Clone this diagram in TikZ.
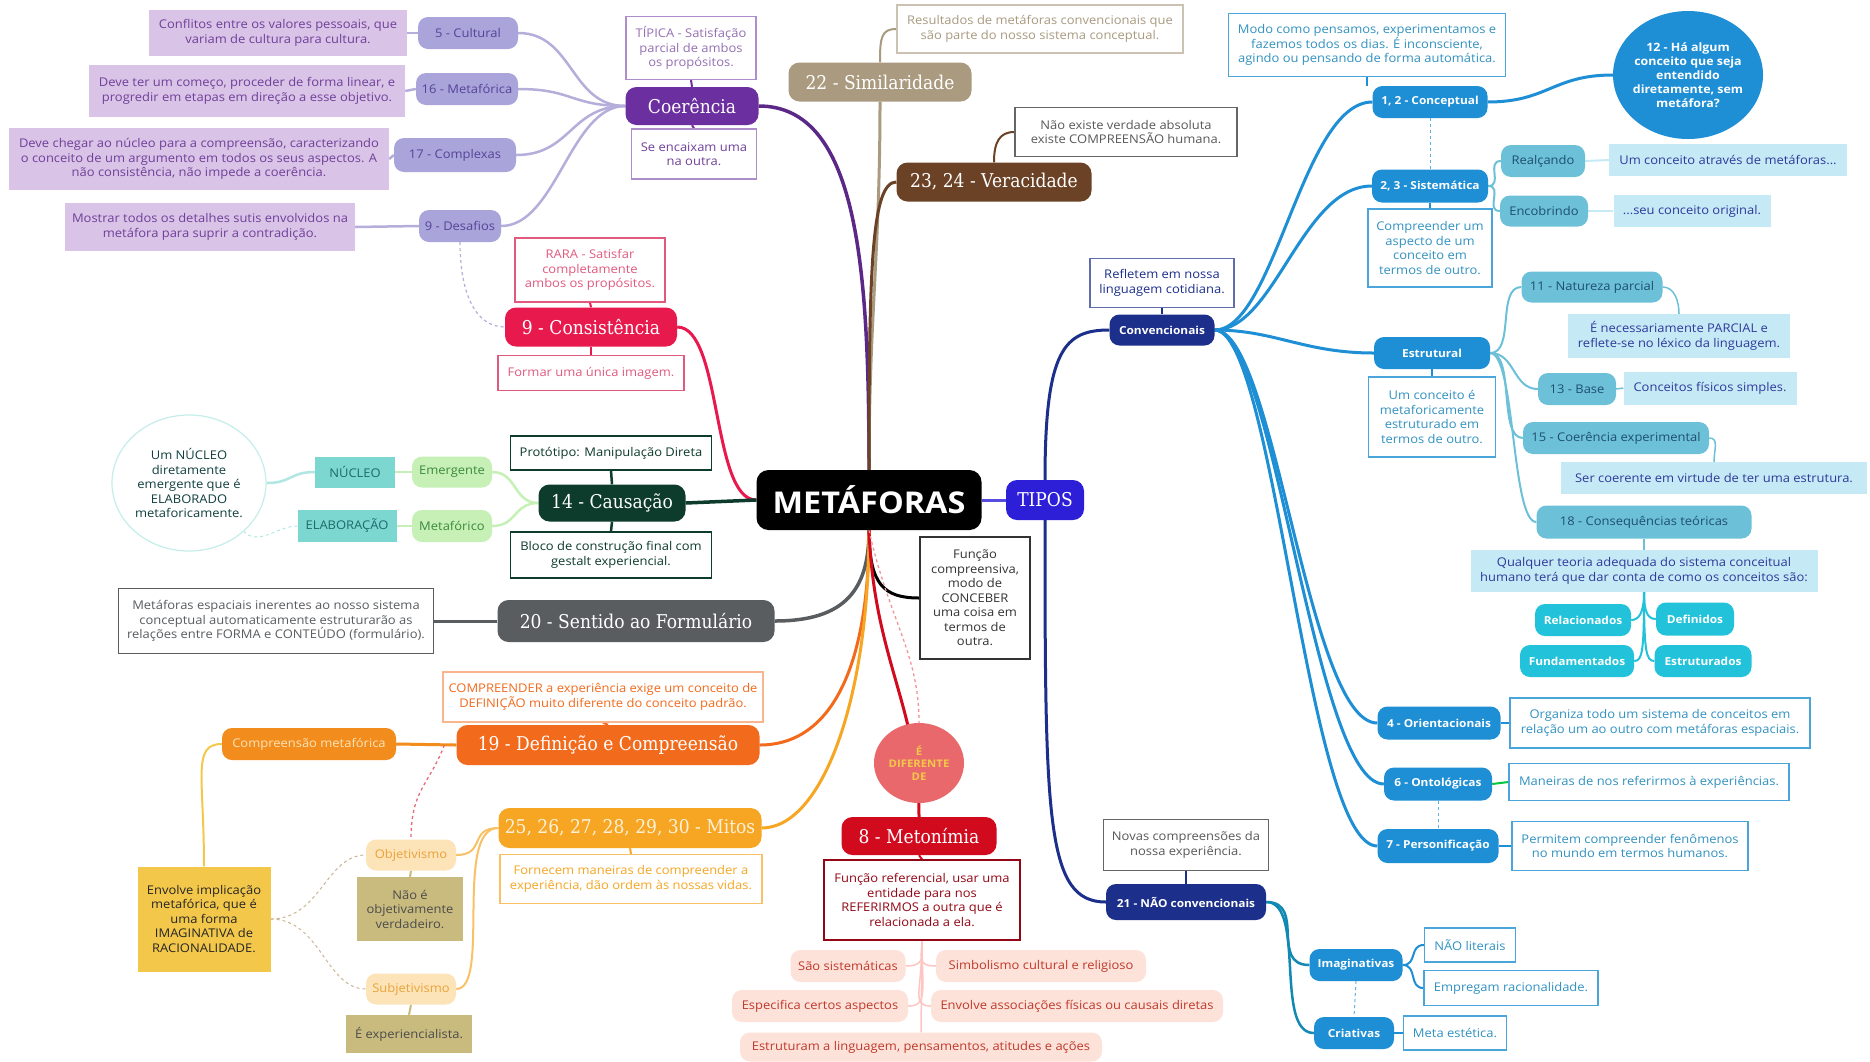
\documentclass[tikz,border=0pt]{standalone}
\usepackage{fontspec}
\setmainfont{Open Sans}[FakeStretch=1.08]
\newfontfamily\slabfont{DejaVu Serif}[FakeStretch=0.9]
\usetikzlibrary{shapes.geometric}
\pgfdeclarelayer{background}
\pgfsetlayers{background,main}
\newcommand\myfs[2]{\fontsize{#1}{#2}\selectfont}
\definecolor{cPurple}{HTML}{6B2FA0}
\definecolor{cLav}{HTML}{A9A4D9}
\definecolor{cLavTxt}{HTML}{54449A}
\definecolor{cLilac}{HTML}{D9C3E6}
\definecolor{cLilacTxt}{HTML}{70409A}
\definecolor{cLavLine}{HTML}{B5AEDB}
\definecolor{cCrim}{HTML}{E8194D}
\definecolor{cCrimBox}{HTML}{E05A7E}
\definecolor{cDkGreen}{HTML}{0D3B2C}
\definecolor{cLtGreen}{HTML}{C6F0B6}
\definecolor{cGreenTxt}{HTML}{3C8A3C}
\definecolor{cTealBox}{HTML}{7DD7D1}
\definecolor{cTealTxt}{HTML}{1C6A6A}
\definecolor{cGray}{HTML}{595D60}
\definecolor{cOrange}{HTML}{F26B1D}
\definecolor{cOrange2}{HTML}{F28C1C}
\definecolor{cAmber}{HTML}{F6A623}
\definecolor{cPeach}{HTML}{FDE4B8}
\definecolor{cPeachTxt}{HTML}{E9A23B}
\definecolor{cKhaki}{HTML}{C9BB7E}
\definecolor{cYellow}{HTML}{F3C84A}
\definecolor{cRed}{HTML}{D10A1E}
\definecolor{cSalmon}{HTML}{E8686C}
\definecolor{cPink}{HTML}{FDE2DA}
\definecolor{cPinkTxt}{HTML}{C0392B}
\definecolor{cBrown}{HTML}{6B4226}
\definecolor{cTaupe}{HTML}{A99A80}
\definecolor{cIndigo}{HTML}{2D1FD8}
\definecolor{cNavy}{HTML}{1C2F8A}
\definecolor{cBlue}{HTML}{1E8FD5}
\definecolor{cBlueTxt}{HTML}{3292C0}
\definecolor{cTealPill}{HTML}{6CC1D8}
\definecolor{cTealPillTxt}{HTML}{1F4F6F}
\definecolor{cLtBlue}{HTML}{C6E9F6}
\definecolor{cLtBlueTxt}{HTML}{2E3A9A}
\definecolor{cCyan}{HTML}{22C3DA}
\tikzset{
  every node/.style={inner sep=2pt, align=center},
  tx/.style={font=\myfs{12}{14.5}},
  sz/.style 2 args={minimum width=#1, minimum height=#2},
  pill/.style={tx, rounded corners=10pt, fill=#1},
  hpill/.style={rounded corners=11pt, fill=#1, text=white, font=\slabfont\myfs{19}{22}},
  obox/.style={tx, draw=#1, line width=1.3pt, fill=white},
  obox/.default=cBlue,
  fbox/.style={tx, fill=#1},
  bbox/.style={obox=cBlue!80, text=cBlueTxt},
  lbox/.style={tx, fill=cLtBlue, text=cLtBlueTxt},
  tpill/.style={pill=cTealPill, text=cTealPillTxt},
  cpill/.style={pill=cCyan, text=white, font=\bfseries\myfs{11}{13}},
  bpill/.style={pill=cBlue, text=white, font=\bfseries\myfs{11}{13}},
  npill/.style={pill=cNavy, text=white, font=\bfseries\myfs{11}{13}},
  lavp/.style={pill=cLav, text=cLavTxt},
  lilb/.style={fbox=cLilac, text=cLilacTxt},
  pinkp/.style={pill=cPink, text=cPinkTxt},
}
\begin{document}
\begin{tikzpicture}[x=1pt,y=-1pt]
\useasboundingbox (0,0) rectangle (1870,1061);
% ---------- centre
\node[fill=black, rounded corners=12pt, text=white, font=\bfseries\myfs{30}{34}, sz={225}{60}] (met) at (869,500) {METÁFORAS};
\node[hpill=cIndigo, sz={78}{40}, font=\slabfont\myfs{19}{22}] (tipos) at (1045,500) {TIPOS};
\node[obox=black!80, text=black!80, sz={110}{122}] (func) at (975,598) {Função\\compreensiva,\\modo de\\CONCEBER\\uma coisa em\\termos de\\outra.};
% ---------- purple
\node[hpill=cPurple, sz={133}{38}] (coer) at (692,106) {Coerência};
\node[obox=cPurple!55, text=cLilacTxt!75, sz={130}{63}] (tip) at (691,48) {TÍPICA - Satisfação\\parcial de ambos\\os propósitos.};
\node[obox=cPurple!55, text=cLilacTxt, sz={125}{50}] (enc) at (694,154) {Se encaixam uma\\na outra.};
\node[lavp, sz={100}{32}] (cult) at (468,33) {5 - Cultural};
\node[lavp, sz={102}{32}] (metf) at (467,89) {16 - Metafórica};
\node[lavp, sz={122}{34}] (compl) at (455,155) {17 - Complexas};
\node[lavp, sz={82}{32}] (desaf) at (460,226) {9 - Desafios};
\node[lilb, sz={258}{46}] (conf) at (278,33) {Conflitos entre os valores pessoais, que\\variam de cultura para cultura.};
\node[lilb, sz={316}{52}] (deve1) at (247,91) {Deve ter um começo, proceder de forma linear, e\\progredir em etapas em direção a esse objetivo.};
\node[lilb, sz={380}{62}] (deve2) at (199,159) {Deve chegar ao núcleo para a compreensão, caracterizando\\o conceito de um argumento em todos os seus aspectos. A\\não consistência, não impede a coerência.};
\node[lilb, sz={290}{48}] (most) at (210,227) {Mostrar todos os detalhes sutis envolvidos na\\metáfora para suprir a contradição.};
% ---------- crimson
\node[hpill=cCrim, sz={172}{39}] (cons) at (591,327) {9 - Consistência};
\node[obox=cCrimBox, text=cCrimBox, sz={150}{64}] (rara) at (590,270) {RARA - Satisfar\\completamente\\ambos os propósitos.};
\node[obox=cCrimBox, text=cCrimBox, sz={186}{35}] (form) at (591,373) {Formar uma única imagem.};
% ---------- green
\node[hpill=cDkGreen, sz={147}{37}] (caus) at (612,503) {14 - Causação};
\node[obox=cDkGreen, text=cDkGreen, sz={201}{34}] (proto) at (611,453) {Protótipo: Manipulação Direta};
\node[obox=cDkGreen, text=cDkGreen, sz={201}{46}] (bloco) at (611,555) {Bloco de construção final com\\gestalt experiencial.};
\node[pill=cLtGreen, text=cGreenTxt, sz={80}{31}] (emer) at (452,472) {Emergente};
\node[pill=cLtGreen, text=cGreenTxt, sz={80}{32}] (mfco) at (452,526) {Metafórico};
\node[fbox=cTealBox, text=cTealTxt, sz={80}{31}] (nuc) at (355,472) {NÚCLEO};
\node[fbox=cTealBox, text=cTealTxt, sz={99}{32}] (elab) at (347,526) {ELABORAÇÃO};
\node[ellipse, tx, draw=cTealBox!45, line width=1.2pt, text=cTealTxt!60!black, sz={154}{136}, inner sep=0pt] (nucc) at (189,483) {Um NÚCLEO\\diretamente\\emergente que é\\ELABORADO\\metaforicamente.};
% ---------- gray
\node[hpill=cGray, sz={277}{42}] (sent) at (636,621) {20 - Sentido ao Formulário};
\node[obox=cGray, text=cGray, sz={315}{65}] (espac) at (276,621) {Metáforas espaciais inerentes ao nosso sistema\\conceptual automaticamente estruturarão as\\relações entre FORMA e CONTEÚDO (formulário).};
% ---------- orange
\node[hpill=cOrange, sz={303}{40}] (def) at (608,745) {19 - Definição e Compreensão};
\node[obox=cOrange!50, text=cOrange, sz={320}{50}] (compr19) at (603,697) {COMPREENDER a experiência exige um conceito de\\DEFINIÇÃO muito diferente do conceito padrão.};
\node[pill=cOrange2, text=cPeach, sz={174}{32}] (cmet) at (309,744) {Compreensão metafórica};
\node[hpill=cAmber, text=cPeach!50, sz={263}{40}] (mitos) at (630,828) {25, 26, 27, 28, 29, 30 - Mitos};
\node[obox=cAmber!70, text=cAmber, sz={262}{49}] (forn) at (631,879) {Fornecem maneiras de compreender a\\experiência, dão ordem às nossas vidas.};
\node[pill=cPeach, text=cPeachTxt, sz={90}{31}] (obj) at (411,855) {Objetivismo};
\node[fbox=cKhaki, text=black!70, sz={106}{64}] (naoe) at (410,909) {Não é\\objetivamente\\verdadeiro.};
\node[pill=cPeach, text=cPeachTxt, sz={90}{31}] (subj) at (411,989) {Subjetivismo};
\node[fbox=cKhaki, text=black!70, sz={126}{38}] (expe) at (409,1034) {É experiencialista.};
\node[fbox=cYellow, text=black!85, sz={133}{105}] (envol) at (204,919) {Envolve implicação\\metafórica, que é\\uma forma\\IMAGINATIVA de\\RACIONALIDADE.};
% ---------- red
\node[ellipse, fill=cSalmon, text=cYellow, font=\bfseries\myfs{10.5}{12.5}, sz={90}{80}, inner sep=-5pt] (dif) at (919,763) {É\\DIFERENTE\\DE};
\node[hpill=cRed, sz={155}{38}] (meto) at (919,836) {8 - Metonímia};
\node[obox=cRed!70!black, text=cRed!70!black, sz={196}{80}] (fref) at (922,900) {Função referencial, usar uma\\entidade para nos\\REFERIRMOS a outra que é\\relacionada a ela.};
\node[pinkp, sz={115}{32}] (sao) at (848,966) {São sistemáticas};
\node[pinkp, sz={210}{32}] (simb) at (1041,966) {Simbolismo cultural e religioso};
\node[pinkp, sz={176}{32}] (espe) at (820,1006) {Especifica certos aspectos};
\node[pinkp, sz={292}{32}] (envas) at (1077,1006) {Envolve associações físicas ou causais diretas};
\node[pinkp, sz={362}{29}] (estrut) at (921,1047) {Estruturam a linguagem, pensamentos, atitudes e ações};
% ---------- top
\node[hpill=cTaupe, sz={183}{39}] (sim) at (880,82) {22 - Similaridade};
\node[obox=cTaupe!60, text=cTaupe, sz={286}{48}] (res) at (1040,29) {Resultados de metáforas convencionais que\\são parte do nosso sistema conceptual.};
\node[hpill=cBrown, sz={195}{39}] (ver) at (994,182) {23, 24 - Veracidade};
\node[obox=black!60, text=black!65, sz={222}{49}] (naoex) at (1126,132) {Não existe verdade absoluta\\existe COMPREENSÃO humana.};
% ---------- blue
\node[npill, sz={105}{31}] (conv) at (1162,330) {Convencionais};
\node[obox=cNavy!70, text=cNavy, sz={144}{49}] (refl) at (1162,283) {Refletem em nossa\\linguagem cotidiana.};
\node[npill, sz={160}{36}] (nconv) at (1186,902) {21 - NÃO convencionais};
\node[obox=black!60, text=black!65, sz={165}{51}] (novas) at (1186,845) {Novas compreensões da\\nossa experiência.};
\node[bpill, sz={115}{32}] (concp) at (1430,102) {1, 2 - Conceptual};
\node[bbox, sz={277}{63}] (modo) at (1367,45) {Modo como pensamos, experimentamos e\\fazemos todos os dias. É inconsciente,\\agindo ou pensando de forma automática.};
\node[ellipse, fill=cBlue, text=white, font=\bfseries\myfs{11.5}{14}, sz={150}{128}, inner sep=-10pt] (c12) at (1688,75) {12 - Há algum\\conceito que seja\\entendido\\diretamente, sem\\metáfora?};
\node[bpill, sz={116}{33}] (sist) at (1430,186) {2, 3 - Sistemática};
\node[bbox, sz={124}{78}] (compre) at (1430,248) {Compreender um\\aspecto de um\\conceito em\\termos de outro.};
\node[tpill, sz={84}{32}] (real) at (1543,161) {Realçando};
\node[tpill, sz={88}{31}] (enco) at (1544,211) {Encobrindo};
\node[lbox, sz={238}{32}] (atrav) at (1728,160) {Um conceito através de metáforas...};
\node[lbox, sz={157}{32}] (seu) at (1692,211) {...seu conceito original.};
\node[bpill, sz={116}{32}] (estr) at (1432,353) {Estrutural};
\node[bbox, sz={127}{80}] (umce) at (1432,417) {Um conceito é\\metaforicamente\\estruturado em\\termos de outro.};
\node[tpill, sz={141}{31}] (nat) at (1592,287) {11 - Natureza parcial};
\node[lbox, sz={222}{44}] (nec) at (1679,336) {É necessariamente PARCIAL e\\reflete-se no léxico da linguagem.};
\node[tpill, sz={78}{32}] (base) at (1577,389) {13 - Base};
\node[lbox, sz={173}{33}] (fis) at (1710,388) {Conceitos físicos simples.};
\node[tpill, sz={186}{32}] (coex) at (1616,438) {15 - Coerência experimental};
\node[lbox, sz={306}{32}] (ser) at (1714,478) {Ser coerente em virtude de ter uma estrutura.};
\node[tpill, sz={215}{33}] (csq) at (1644,522) {18 - Consequências teóricas};
\node[lbox, sz={347}{42}] (qual) at (1644,571) {Qualquer teoria adequada do sistema conceitual\\humano terá que dar conta de como os conceitos são:};
\node[cpill, sz={96}{32}] (rel) at (1583,620) {Relacionados};
\node[cpill, sz={78}{33}] (dfn) at (1695,619) {Definidos};
\node[cpill, sz={114}{32}] (fund) at (1577,661) {Fundamentados};
\node[cpill, sz={97}{32}] (estd) at (1703,661) {Estruturados};
\node[bpill, sz={123}{33}] (ori) at (1439,723) {4 - Orientacionais};
\node[bbox, sz={300}{50}] (org) at (1660,723) {Organiza todo um sistema de conceitos em\\relação um ao outro com metáforas espaciais.};
\node[bpill, sz={108}{33}] (onto) at (1438,784) {6 - Ontológicas};
\node[bbox, sz={280}{37}] (man) at (1649,782) {Maneiras de nos referirmos à experiências.};
\node[bpill, sz={121}{34}] (pers) at (1438,846) {7 - Personificação};
\node[bbox, sz={236}{49}] (perm) at (1630,846) {Permitem compreender fenômenos\\no mundo em termos humanos.};
\node[bpill, sz={93}{32}] (imag) at (1356,965) {Imaginativas};
\node[bpill, sz={80}{32}] (criat) at (1354,1033) {Criativas};
\node[bbox, sz={91}{34}] (nlit) at (1470,945) {NÃO literais};
\node[bbox, sz={174}{35}] (empr) at (1511,988) {Empregam racionalidade.};
\node[bbox, sz={103}{34}] (meta) at (1455,1033) {Meta estética.};
% ================= connectors
\begin{pgfonlayer}{background}
\fill[white] (0,0) rectangle (1870,1061);
% purple
\foreach \t in {cult,metf,compl,desaf}
  \draw[line width=2.5, cLavLine] (coer.west) .. controls +(-55,0) and +(55,0) .. (\t.east);
\draw[line width=2.5, cLavLine] (cult.west) -- (conf.east);
\draw[line width=2.5, cLavLine] (metf.west) -- (deve1.east);
\draw[line width=2.5, cLavLine] (compl.west) -- (deve2.east);
\draw[line width=2.5, cLavLine] (desaf.west) -- (most.east);
\draw[line width=2, cPurple] (coer.north) -- (tip.south);
\draw[line width=2, cPurple] (coer.south) -- (enc.north);
\draw[line width=3.5, cPurple!85!black] (coer.east) .. controls +(100,0) and +(0,-200) .. (met.north);
\draw[dashed, line width=1.2, cLavLine] (desaf.south) .. controls +(0,50) and +(-30,0) .. (cons.west);
% crimson
\draw[line width=3, cCrim] (cons.east) .. controls +(45,0) and +(-45,0) .. (met.west);
\draw[line width=2, cCrim] (cons.north) -- (rara.south);
\draw[line width=2, cCrim] (cons.south) -- (form.north);
% green
\draw[line width=3.5, cDkGreen] (caus.east) -- (met.west);
\draw[line width=2.5, cDkGreen] (caus.north) -- (proto.south);
\draw[line width=2.5, cDkGreen] (caus.south) -- (bloco.north);
\draw[line width=2.5, cLtGreen] (caus.west) .. controls +(-25,0) and +(25,0) .. (emer.east);
\draw[line width=2.5, cLtGreen] (caus.west) .. controls +(-25,0) and +(25,0) .. (mfco.east);
\draw[line width=2.5, cLtGreen] (emer.west) -- (nuc.east);
\draw[line width=2.5, cLtGreen] (mfco.west) -- (elab.east);
\draw[line width=2.5, cTealBox!60] (nuc.west) .. controls +(-25,0) and +(25,0) .. (nucc.east);
\draw[dashed, line width=1, cTealBox!60] (elab.west) .. controls +(-20,0) and +(15,15) .. (nucc.south east);
% gray
\draw[line width=3.5, cGray] (sent.east) .. controls +(70,0) and +(0,60) .. (met.south);
\draw[line width=3, cGray] (sent.west) -- (espac.east);
% function
\draw[line width=3, black] (met.south) .. controls +(0,55) and +(-35,0) .. (func.west);
% orange
\draw[line width=3, cOrange] (met.south) .. controls +(0,140) and +(70,0) .. (def.east);
\draw[line width=3, cAmber] (met.south) .. controls +(0,170) and +(60,0) .. (mitos.east);
\draw[line width=3, cRed] (met.south) .. controls +(5,130) and +(0,-110) .. (meto.north);
\draw[dashed, line width=1.3, cSalmon!70] (met.south) .. controls +(20,90) and +(0,-70) .. (dif.north);
\draw[line width=2, cOrange] (def.north) -- (compr19.south);
\draw[line width=3, cOrange2] (def.west) -- (cmet.east);
\draw[line width=2, cYellow] (cmet.west) .. controls +(-30,0) and +(0,-90) .. (envol.north);
\draw[dashed, line width=1, cPeach!80!black] (envol.east) .. controls +(50,0) and +(-40,0) .. (obj.west);
\draw[dashed, line width=1, cPeach!80!black] (envol.east) .. controls +(50,0) and +(-40,0) .. (subj.west);
\draw[dashed, line width=1.3, cRed!60] ([xshift=-12]def.west) .. controls +(-15,40) and +(0,-50) .. (obj.north);
\draw[line width=2, cAmber!70] (mitos.west) .. controls +(-30,0) and +(30,0) .. (obj.east);
\draw[line width=2, cAmber!70] (mitos.west) .. controls +(-45,0) and +(35,0) .. (subj.east);
\draw[line width=2, cAmber] (mitos.south) -- (forn.north);
\draw[line width=2, cKhaki] (obj.south) -- (naoe.north);
\draw[line width=2, cKhaki] (subj.south) -- (expe.north);
% red
\draw[line width=2, cRed] (meto.south) -- (fref.north);
\draw[line width=1.5, cPink!70!red!60] (fref.south) -- (estrut.north);
\draw[line width=1.5, cPink!70!red!60] (fref.south) .. controls +(0,15) and +(20,0) .. (sao.east);
\draw[line width=1.5, cPink!70!red!60] (fref.south) .. controls +(0,15) and +(-20,0) .. (simb.west);
\draw[line width=1.5, cPink!70!red!60] (fref.south) .. controls +(0,50) and +(20,0) .. (espe.east);
\draw[line width=1.5, cPink!70!red!60] (fref.south) .. controls +(0,50) and +(-20,0) .. (envas.west);
% top
\draw[line width=3, cTaupe] (sim.south) .. controls +(0,150) and +(0,-150) .. (met.north);
\draw[line width=2, cTaupe] (sim.north) .. controls +(0,-25) and +(-15,0) .. (res.west);
\draw[line width=3, cBrown] (ver.west) .. controls +(-25,0) and +(0,-200) .. (met.north);
\draw[line width=2, cBrown] (ver.north) .. controls +(0,-20) and +(-15,0) .. (naoex.west);
% tipos
\draw[line width=3, cIndigo!80] (met.east) -- (tipos.west);
\draw[line width=3, cNavy] (tipos.north) .. controls +(0,-130) and +(-45,0) .. (conv.west);
\draw[line width=3, cNavy] (tipos.south) .. controls +(0,300) and +(-60,0) .. (nconv.west);
\draw[line width=2, cNavy] (conv.north) -- (refl.south);
\draw[line width=2, cNavy] (nconv.north) -- (novas.south);
% blue
\foreach \t in {concp,sist,estr,ori,onto,pers}
  \draw[line width=3, cBlue] (conv.east) .. controls +(60,0) and +(-70,0) .. (\t.west);
\draw[line width=3, cBlue] (concp.east) .. controls +(60,0) and +(-60,0) .. (c12.west);
\draw[dashed, line width=1, cBlue!70] (concp.south) -- (sist.north);
\draw[line width=2, cBlue] (modo.south) -- (modo.south |- concp.north);
\draw[line width=2, cTealPill] (sist.east) .. controls +(15,0) and +(-15,0) .. (real.west);
\draw[line width=2, cTealPill] (sist.east) .. controls +(15,0) and +(-15,0) .. (enco.west);
\draw[line width=2, cLtBlue] (real.east) -- (atrav.west);
\draw[line width=2, cLtBlue] (enco.east) -- (seu.west);
\draw[line width=2, cBlue] (sist.south) -- (compre.north);
\draw[line width=2, cBlue] (estr.south) -- (umce.north);
\foreach \t in {nat,base,coex,csq}
  \draw[line width=2, cTealPill] (estr.east) .. controls +(25,0) and +(-25,0) .. (\t.west);
\draw[line width=1.5, cTealPill] (nat.east) .. controls +(12,0) and +(0,-12) .. (nec.north);
\draw[line width=1.5, cTealPill] (base.east) -- (fis.west);
\draw[line width=1.5, cTealPill] (coex.east) .. controls +(10,0) and +(0,-12) .. (ser.north);
\draw[line width=1.5, cTealPill] (csq.south) -- (qual.north);
\draw[line width=2, cCyan] (qual.south) .. controls +(0,20) and +(8,0) .. (rel.east);
\draw[line width=2, cCyan] (qual.south) .. controls +(0,20) and +(-8,0) .. (dfn.west);
\draw[line width=2, cCyan] (qual.south) .. controls +(0,60) and +(8,0) .. (fund.east);
\draw[line width=2, cCyan] (qual.south) .. controls +(0,60) and +(-8,0) .. (estd.west);
\draw[line width=2, cBlue] (ori.east) -- (org.west);
\draw[line width=2, green!55!teal] (onto.east) -- (man.west);
\draw[line width=2, cBlue] (pers.east) -- (perm.west);
\draw[dashed, line width=1, cBlue!70] (onto.south) -- (pers.north);
\draw[line width=2.5, cBlue!60!teal] (nconv.east) .. controls +(40,0) and +(-40,0) .. (imag.west);
\draw[line width=2.5, cBlue!60!teal] (nconv.east) .. controls +(40,0) and +(-40,0) .. (criat.west);
\draw[line width=2, cBlue] (imag.east) .. controls +(15,0) and +(-15,0) .. (nlit.west);
\draw[line width=2, cBlue] (imag.east) .. controls +(15,0) and +(-15,0) .. (empr.west);
\draw[line width=2, cBlue] (criat.east) -- (meta.west);
\draw[dashed, line width=1, cBlue!70] (imag.south) -- (criat.north);
\end{pgfonlayer}
\end{tikzpicture}
\end{document}
